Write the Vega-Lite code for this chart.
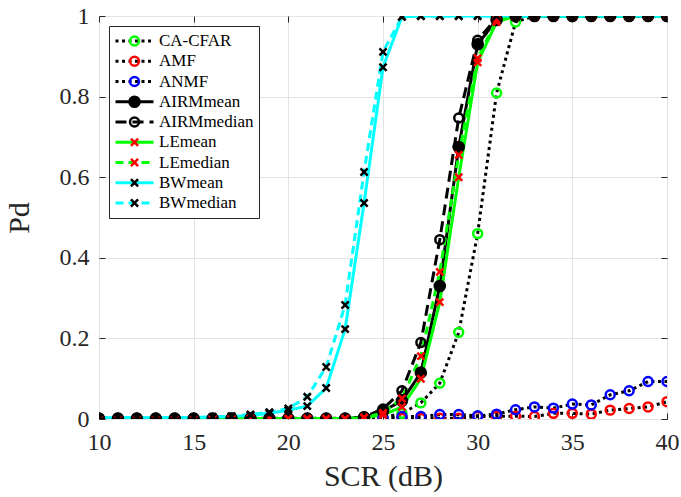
{
  "$schema": "https://vega.github.io/schema/vega-lite/v6.json",
  "width": 568,
  "height": 403,
  "autosize": {"type": "none"},
  "padding": {"left": 99, "top": 16, "right": 14, "bottom": 78},
  "background": "white",
  "config": {
    "font": "Liberation Serif",
    "view": {"stroke": "#262626", "strokeWidth": 1},
    "axis": {
      "labelFont": "Liberation Serif",
      "titleFont": "Liberation Serif",
      "labelColor": "#262626",
      "titleColor": "#262626",
      "labelFontSize": 24,
      "titleFontSize": 30,
      "titleFontWeight": "normal",
      "labelFlush": false,
      "gridColor": "#e3e3e3",
      "gridWidth": 1,
      "domain": false,
      "tickColor": "#262626",
      "tickSize": -6,
      "tickWidth": 1
    }
  },
  "resolve": {
    "axis": {"x": "independent", "y": "independent"}
  },
  "data": {
    "values": [
      {"s":"CA-CFAR","x":10,"y":0.001},{"s":"CA-CFAR","x":11,"y":0.001},{"s":"CA-CFAR","x":12,"y":0.001},{"s":"CA-CFAR","x":13,"y":0.001},{"s":"CA-CFAR","x":14,"y":0.001},{"s":"CA-CFAR","x":15,"y":0.001},{"s":"CA-CFAR","x":16,"y":0.001},{"s":"CA-CFAR","x":17,"y":0.001},{"s":"CA-CFAR","x":18,"y":0.001},{"s":"CA-CFAR","x":19,"y":0.001},{"s":"CA-CFAR","x":20,"y":0.001},{"s":"CA-CFAR","x":21,"y":0.001},{"s":"CA-CFAR","x":22,"y":0.001},{"s":"CA-CFAR","x":23,"y":0.001},{"s":"CA-CFAR","x":24,"y":0.001},{"s":"CA-CFAR","x":25,"y":0.004},{"s":"CA-CFAR","x":26,"y":0.014},{"s":"CA-CFAR","x":27,"y":0.04},{"s":"CA-CFAR","x":28,"y":0.089},{"s":"CA-CFAR","x":29,"y":0.215},{"s":"CA-CFAR","x":30,"y":0.46},{"s":"CA-CFAR","x":31,"y":0.809},{"s":"CA-CFAR","x":32,"y":0.985},{"s":"CA-CFAR","x":33,"y":1},{"s":"CA-CFAR","x":34,"y":1},{"s":"CA-CFAR","x":35,"y":1},{"s":"CA-CFAR","x":36,"y":1},{"s":"CA-CFAR","x":37,"y":1},{"s":"CA-CFAR","x":38,"y":1},{"s":"CA-CFAR","x":39,"y":1},{"s":"CA-CFAR","x":40,"y":1},
      {"s":"AMF","x":10,"y":0.001},{"s":"AMF","x":11,"y":0.001},{"s":"AMF","x":12,"y":0.001},{"s":"AMF","x":13,"y":0.001},{"s":"AMF","x":14,"y":0.001},{"s":"AMF","x":15,"y":0.001},{"s":"AMF","x":16,"y":0.001},{"s":"AMF","x":17,"y":0.001},{"s":"AMF","x":18,"y":0.001},{"s":"AMF","x":19,"y":0.001},{"s":"AMF","x":20,"y":0.001},{"s":"AMF","x":21,"y":0.001},{"s":"AMF","x":22,"y":0.001},{"s":"AMF","x":23,"y":0.001},{"s":"AMF","x":24,"y":0.001},{"s":"AMF","x":25,"y":0.001},{"s":"AMF","x":26,"y":0.001},{"s":"AMF","x":27,"y":0.001},{"s":"AMF","x":28,"y":0.002},{"s":"AMF","x":29,"y":0.002},{"s":"AMF","x":30,"y":0.006},{"s":"AMF","x":31,"y":0.007},{"s":"AMF","x":32,"y":0.007},{"s":"AMF","x":33,"y":0.006},{"s":"AMF","x":34,"y":0.014},{"s":"AMF","x":35,"y":0.014},{"s":"AMF","x":36,"y":0.012},{"s":"AMF","x":37,"y":0.022},{"s":"AMF","x":38,"y":0.026},{"s":"AMF","x":39,"y":0.03},{"s":"AMF","x":40,"y":0.043},
      {"s":"ANMF","x":10,"y":0.002},{"s":"ANMF","x":11,"y":0.002},{"s":"ANMF","x":12,"y":0.002},{"s":"ANMF","x":13,"y":0.002},{"s":"ANMF","x":14,"y":0.002},{"s":"ANMF","x":15,"y":0.002},{"s":"ANMF","x":16,"y":0.002},{"s":"ANMF","x":17,"y":0.002},{"s":"ANMF","x":18,"y":0.002},{"s":"ANMF","x":19,"y":0.002},{"s":"ANMF","x":20,"y":0.002},{"s":"ANMF","x":21,"y":0.002},{"s":"ANMF","x":22,"y":0.002},{"s":"ANMF","x":23,"y":0.002},{"s":"ANMF","x":24,"y":0.002},{"s":"ANMF","x":25,"y":0.003},{"s":"ANMF","x":26,"y":0.006},{"s":"ANMF","x":27,"y":0.006},{"s":"ANMF","x":28,"y":0.011},{"s":"ANMF","x":29,"y":0.011},{"s":"ANMF","x":30,"y":0.008},{"s":"ANMF","x":31,"y":0.012},{"s":"ANMF","x":32,"y":0.023},{"s":"ANMF","x":33,"y":0.03},{"s":"ANMF","x":34,"y":0.027},{"s":"ANMF","x":35,"y":0.037},{"s":"ANMF","x":36,"y":0.035},{"s":"ANMF","x":37,"y":0.06},{"s":"ANMF","x":38,"y":0.07},{"s":"ANMF","x":39,"y":0.093},{"s":"ANMF","x":40,"y":0.093},
      {"s":"AIRMmean","x":10,"y":0.001},{"s":"AIRMmean","x":11,"y":0.001},{"s":"AIRMmean","x":12,"y":0.001},{"s":"AIRMmean","x":13,"y":0.001},{"s":"AIRMmean","x":14,"y":0.001},{"s":"AIRMmean","x":15,"y":0.001},{"s":"AIRMmean","x":16,"y":0.001},{"s":"AIRMmean","x":17,"y":0.001},{"s":"AIRMmean","x":18,"y":0.001},{"s":"AIRMmean","x":19,"y":0.001},{"s":"AIRMmean","x":20,"y":0.001},{"s":"AIRMmean","x":21,"y":0.001},{"s":"AIRMmean","x":22,"y":0.001},{"s":"AIRMmean","x":23,"y":0.001},{"s":"AIRMmean","x":24,"y":0.004},{"s":"AIRMmean","x":25,"y":0.02},{"s":"AIRMmean","x":26,"y":0.045},{"s":"AIRMmean","x":27,"y":0.115},{"s":"AIRMmean","x":28,"y":0.33},{"s":"AIRMmean","x":29,"y":0.675},{"s":"AIRMmean","x":30,"y":0.93},{"s":"AIRMmean","x":31,"y":0.99},{"s":"AIRMmean","x":32,"y":1},{"s":"AIRMmean","x":33,"y":1},{"s":"AIRMmean","x":34,"y":1},{"s":"AIRMmean","x":35,"y":1},{"s":"AIRMmean","x":36,"y":1},{"s":"AIRMmean","x":37,"y":1},{"s":"AIRMmean","x":38,"y":1},{"s":"AIRMmean","x":39,"y":1},{"s":"AIRMmean","x":40,"y":1},
      {"s":"AIRMmedian","x":10,"y":0.001},{"s":"AIRMmedian","x":11,"y":0.001},{"s":"AIRMmedian","x":12,"y":0.001},{"s":"AIRMmedian","x":13,"y":0.001},{"s":"AIRMmedian","x":14,"y":0.001},{"s":"AIRMmedian","x":15,"y":0.001},{"s":"AIRMmedian","x":16,"y":0.001},{"s":"AIRMmedian","x":17,"y":0.001},{"s":"AIRMmedian","x":18,"y":0.001},{"s":"AIRMmedian","x":19,"y":0.001},{"s":"AIRMmedian","x":20,"y":0.001},{"s":"AIRMmedian","x":21,"y":0.001},{"s":"AIRMmedian","x":22,"y":0.001},{"s":"AIRMmedian","x":23,"y":0.001},{"s":"AIRMmedian","x":24,"y":0.005},{"s":"AIRMmedian","x":25,"y":0.025},{"s":"AIRMmedian","x":26,"y":0.07},{"s":"AIRMmedian","x":27,"y":0.19},{"s":"AIRMmedian","x":28,"y":0.445},{"s":"AIRMmedian","x":29,"y":0.747},{"s":"AIRMmedian","x":30,"y":0.94},{"s":"AIRMmedian","x":31,"y":0.995},{"s":"AIRMmedian","x":32,"y":1},{"s":"AIRMmedian","x":33,"y":1},{"s":"AIRMmedian","x":34,"y":1},{"s":"AIRMmedian","x":35,"y":1},{"s":"AIRMmedian","x":36,"y":1},{"s":"AIRMmedian","x":37,"y":1},{"s":"AIRMmedian","x":38,"y":1},{"s":"AIRMmedian","x":39,"y":1},{"s":"AIRMmedian","x":40,"y":1},
      {"s":"LEmean","x":10,"y":0.001},{"s":"LEmean","x":11,"y":0.001},{"s":"LEmean","x":12,"y":0.001},{"s":"LEmean","x":13,"y":0.001},{"s":"LEmean","x":14,"y":0.001},{"s":"LEmean","x":15,"y":0.001},{"s":"LEmean","x":16,"y":0.001},{"s":"LEmean","x":17,"y":0.001},{"s":"LEmean","x":18,"y":0.001},{"s":"LEmean","x":19,"y":0.001},{"s":"LEmean","x":20,"y":0.001},{"s":"LEmean","x":21,"y":0.001},{"s":"LEmean","x":22,"y":0.001},{"s":"LEmean","x":23,"y":0.001},{"s":"LEmean","x":24,"y":0.003},{"s":"LEmean","x":25,"y":0.01},{"s":"LEmean","x":26,"y":0.03},{"s":"LEmean","x":27,"y":0.1},{"s":"LEmean","x":28,"y":0.29},{"s":"LEmean","x":29,"y":0.6},{"s":"LEmean","x":30,"y":0.885},{"s":"LEmean","x":31,"y":0.985},{"s":"LEmean","x":32,"y":1},{"s":"LEmean","x":33,"y":1},{"s":"LEmean","x":34,"y":1},{"s":"LEmean","x":35,"y":1},{"s":"LEmean","x":36,"y":1},{"s":"LEmean","x":37,"y":1},{"s":"LEmean","x":38,"y":1},{"s":"LEmean","x":39,"y":1},{"s":"LEmean","x":40,"y":1},
      {"s":"LEmedian","x":10,"y":0.001},{"s":"LEmedian","x":11,"y":0.001},{"s":"LEmedian","x":12,"y":0.001},{"s":"LEmedian","x":13,"y":0.001},{"s":"LEmedian","x":14,"y":0.001},{"s":"LEmedian","x":15,"y":0.001},{"s":"LEmedian","x":16,"y":0.001},{"s":"LEmedian","x":17,"y":0.001},{"s":"LEmedian","x":18,"y":0.001},{"s":"LEmedian","x":19,"y":0.001},{"s":"LEmedian","x":20,"y":0.001},{"s":"LEmedian","x":21,"y":0.001},{"s":"LEmedian","x":22,"y":0.001},{"s":"LEmedian","x":23,"y":0.001},{"s":"LEmedian","x":24,"y":0.004},{"s":"LEmedian","x":25,"y":0.015},{"s":"LEmedian","x":26,"y":0.051},{"s":"LEmedian","x":27,"y":0.156},{"s":"LEmedian","x":28,"y":0.365},{"s":"LEmedian","x":29,"y":0.655},{"s":"LEmedian","x":30,"y":0.895},{"s":"LEmedian","x":31,"y":0.99},{"s":"LEmedian","x":32,"y":1},{"s":"LEmedian","x":33,"y":1},{"s":"LEmedian","x":34,"y":1},{"s":"LEmedian","x":35,"y":1},{"s":"LEmedian","x":36,"y":1},{"s":"LEmedian","x":37,"y":1},{"s":"LEmedian","x":38,"y":1},{"s":"LEmedian","x":39,"y":1},{"s":"LEmedian","x":40,"y":1},
      {"s":"BWmean","x":10,"y":0.003},{"s":"BWmean","x":11,"y":0.003},{"s":"BWmean","x":12,"y":0.003},{"s":"BWmean","x":13,"y":0.003},{"s":"BWmean","x":14,"y":0.003},{"s":"BWmean","x":15,"y":0.004},{"s":"BWmean","x":16,"y":0.005},{"s":"BWmean","x":17,"y":0.006},{"s":"BWmean","x":18,"y":0.009},{"s":"BWmean","x":19,"y":0.014},{"s":"BWmean","x":20,"y":0.022},{"s":"BWmean","x":21,"y":0.032},{"s":"BWmean","x":22,"y":0.077},{"s":"BWmean","x":23,"y":0.223},{"s":"BWmean","x":24,"y":0.536},{"s":"BWmean","x":25,"y":0.873},{"s":"BWmean","x":26,"y":0.998},{"s":"BWmean","x":27,"y":1},{"s":"BWmean","x":28,"y":1},{"s":"BWmean","x":29,"y":1},{"s":"BWmean","x":30,"y":1},{"s":"BWmean","x":31,"y":1},{"s":"BWmean","x":32,"y":1},{"s":"BWmean","x":33,"y":1},{"s":"BWmean","x":34,"y":1},{"s":"BWmean","x":35,"y":1},{"s":"BWmean","x":36,"y":1},{"s":"BWmean","x":37,"y":1},{"s":"BWmean","x":38,"y":1},{"s":"BWmean","x":39,"y":1},{"s":"BWmean","x":40,"y":1},
      {"s":"BWmedian","x":10,"y":0.003},{"s":"BWmedian","x":11,"y":0.003},{"s":"BWmedian","x":12,"y":0.003},{"s":"BWmedian","x":13,"y":0.003},{"s":"BWmedian","x":14,"y":0.003},{"s":"BWmedian","x":15,"y":0.004},{"s":"BWmedian","x":16,"y":0.005},{"s":"BWmedian","x":17,"y":0.007},{"s":"BWmedian","x":18,"y":0.011},{"s":"BWmedian","x":19,"y":0.017},{"s":"BWmedian","x":20,"y":0.026},{"s":"BWmedian","x":21,"y":0.055},{"s":"BWmedian","x":22,"y":0.129},{"s":"BWmedian","x":23,"y":0.283},{"s":"BWmedian","x":24,"y":0.613},{"s":"BWmedian","x":25,"y":0.911},{"s":"BWmedian","x":26,"y":0.998},{"s":"BWmedian","x":27,"y":1},{"s":"BWmedian","x":28,"y":1},{"s":"BWmedian","x":29,"y":1},{"s":"BWmedian","x":30,"y":1},{"s":"BWmedian","x":31,"y":1},{"s":"BWmedian","x":32,"y":1},{"s":"BWmedian","x":33,"y":1},{"s":"BWmedian","x":34,"y":1},{"s":"BWmedian","x":35,"y":1},{"s":"BWmedian","x":36,"y":1},{"s":"BWmedian","x":37,"y":1},{"s":"BWmedian","x":38,"y":1},{"s":"BWmedian","x":39,"y":1},{"s":"BWmedian","x":40,"y":1}
    ]
  },
  "layer": [
    {
      "mark": {"type": "line", "strokeCap": "butt", "clip": true},
      "encoding": {
        "x": {"field": "x", "type": "quantitative", "scale": {"domain": [10, 40], "nice": false},
              "axis": {"values": [10, 15, 20, 25, 30, 35, 40], "title": "SCR (dB)", "labelPadding": 17, "titlePadding": 7}},
        "y": {"field": "y", "type": "quantitative", "scale": {"domain": [0, 1], "nice": false},
              "axis": {"values": [0, 0.2, 0.4, 0.6, 0.8, 1], "format": "~g", "title": "Pd", "labelPadding": 16, "titlePadding": 25}},
        "color": {"field": "s", "type": "nominal",
          "scale": {"domain": ["CA-CFAR","AMF","ANMF","AIRMmean","AIRMmedian","LEmean","LEmedian","BWmean","BWmedian"],
                    "range": ["#000000","#000000","#000000","#000000","#000000","#00ff00","#00ff00","#00ffff","#00ffff"]},
          "legend": {"orient": "top-left", "offset": 10, "title": null, "padding": 5,
                     "strokeColor": "#262626", "fillColor": "white",
                     "symbolType": "stroke", "symbolSize": 1444, "symbolStrokeWidth": 3,
                     "labelFont": "Liberation Serif", "labelFontSize": 17, "labelColor": "#000000",
                     "labelOffset": 4, "rowPadding": 0.25, "clipHeight": 20}},
        "strokeDash": {"field": "s", "type": "nominal",
          "scale": {"domain": ["CA-CFAR","AMF","ANMF","AIRMmean","AIRMmedian","LEmean","LEmedian","BWmean","BWmedian"],
                    "range": [[3,3.5],[3,3.5],[3,3.5],[1,0],[11,6],[1,0],[8,5],[1,0],[8,5]]},
          "legend": null},
        "strokeWidth": {"field": "s", "type": "ordinal",
          "scale": {"domain": ["CA-CFAR","AMF","ANMF","AIRMmean","AIRMmedian","LEmean","LEmedian","BWmean","BWmedian"],
                    "range": [3,3,3,3,3,2,2,2,2]},
          "legend": null}
      }
    },
    {
      "mark": {"type": "point", "filled": false, "opacity": 1, "strokeWidth": 2.5, "size": 80, "clip": true},
      "encoding": {
        "x": {"field": "x", "type": "quantitative",
              "axis": {"orient": "top", "values": [10, 15, 20, 25, 30, 35, 40], "labels": false, "title": null, "grid": false}},
        "y": {"field": "y", "type": "quantitative",
              "axis": {"orient": "right", "values": [0, 0.2, 0.4, 0.6, 0.8, 1], "labels": false, "title": null, "grid": false}},
        "shape": {"field": "s", "type": "nominal",
          "scale": {"domain": ["CA-CFAR","AMF","ANMF","AIRMmean","AIRMmedian","LEmean","LEmedian","BWmean","BWmedian"," "],
                    "range": ["circle","circle","circle","M1.13,0A1.13,1.13,0,1,1,-1.13,0A1.13,1.13,0,1,1,1.13,0M0.7,0A0.7,0.7,0,1,1,-0.7,0A0.7,0.7,0,1,1,0.7,0M0.3,0A0.3,0.3,0,1,1,-0.3,0A0.3,0.3,0,1,1,0.3,0","circle","M-0.8,-0.8L0.8,0.8M0.8,-0.8L-0.8,0.8","M-0.8,-0.8L0.8,0.8M0.8,-0.8L-0.8,0.8","M-0.8,-0.8L0.8,0.8M0.8,-0.8L-0.8,0.8","M-0.8,-0.8L0.8,0.8M0.8,-0.8L-0.8,0.8","circle"]},
          "legend": {"orient": "none", "legendX": 10, "legendY": 10, "title": null, "padding": 5,
                     "symbolSize": 80, "symbolStrokeWidth": 2.5, "symbolOffset": 12,
                     "symbolFillColor": "transparent",
                     "labelFont": "Liberation Serif", "labelFontSize": 17, "labelOpacity": 0, "labelExpr": "' '",
                     "labelOffset": 4, "rowPadding": 0.25, "clipHeight": 20}},
        "stroke": {"field": "s", "type": "nominal",
          "scale": {"domain": ["CA-CFAR","AMF","ANMF","AIRMmean","AIRMmedian","LEmean","LEmedian","BWmean","BWmedian"," "],
                    "range": ["#00ff00","#ff0000","#0000ff","#000000","#000000","#ff0000","#ff0000","#000000","#000000","transparent"]},
          "legend": {"orient": "none", "legendX": 10, "legendY": 10, "title": null, "padding": 5,
                     "symbolSize": 80, "symbolStrokeWidth": 2.5, "symbolOffset": 12,
                     "symbolFillColor": "transparent",
                     "labelFont": "Liberation Serif", "labelFontSize": 17, "labelOpacity": 0, "labelExpr": "' '",
                     "labelOffset": 4, "rowPadding": 0.25, "clipHeight": 20}}
      }
    }
  ]
}
